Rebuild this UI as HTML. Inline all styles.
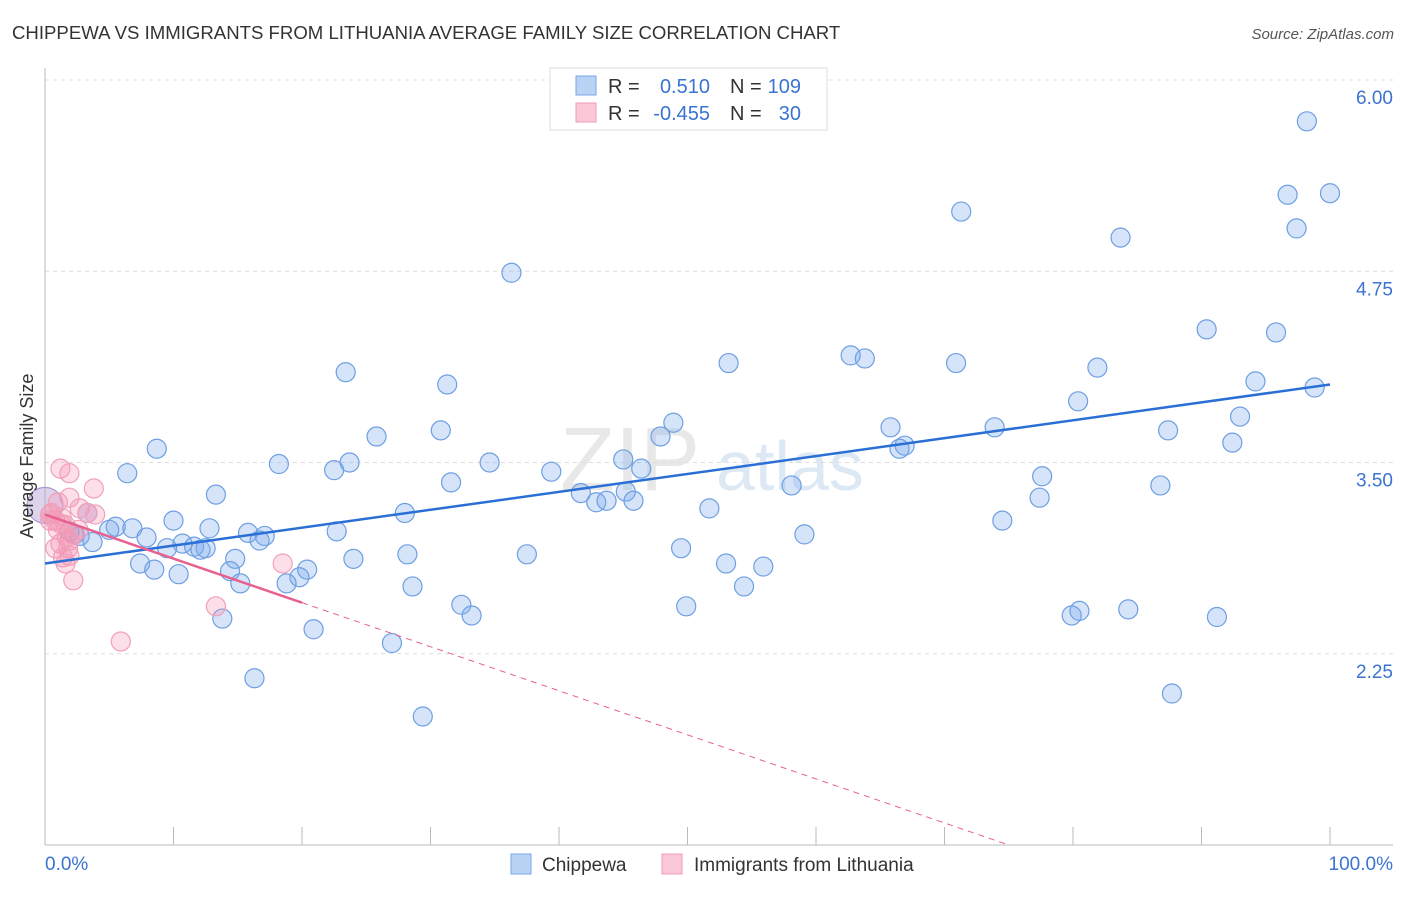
<!DOCTYPE html>
<html><head><meta charset="utf-8">
<style>
body{margin:0;background:#fff;font-family:"Liberation Sans",sans-serif;}
svg text{font-family:"Liberation Sans",sans-serif;}
</style></head>
<body>
<svg id="chart" width="1406" height="892" viewBox="0 0 1406 892" xmlns="http://www.w3.org/2000/svg">
<text x="12" y="39" font-size="18.6" fill="#333">CHIPPEWA VS IMMIGRANTS FROM LITHUANIA AVERAGE FAMILY SIZE CORRELATION CHART</text>
<text x="1394" y="39" font-size="15" fill="#555" font-style="italic" text-anchor="end">Source: ZipAtlas.com</text>
<text x="560" y="490" font-size="90" fill="#e8e8e8" font-family="Liberation Serif">ZIP</text>
<text x="716" y="490" font-size="70" fill="#dde8f5">atlas</text>
<g id="grid"></g>
<g id="axes"></g>
<g id="marks"></g>
<text transform="translate(33,456) rotate(-90)" font-size="18" fill="#333" text-anchor="middle">Average Family Size</text>
<g>
<rect x="550" y="68" width="277" height="62" fill="#fff" stroke="#ddd"/>
<rect x="576" y="76" width="20" height="19" fill="#b9d3f5" stroke="#7aa6e6"/>
<rect x="576" y="103" width="20" height="19" fill="#fbc8d8" stroke="#f09ab6"/>
<text x="608" y="93" font-size="20" fill="#333">R =</text>
<text x="710" y="93" font-size="20" fill="#3a74d0" text-anchor="end">0.510</text>
<text x="730" y="93" font-size="20" fill="#333">N =</text>
<text x="801" y="93" font-size="20" fill="#3a74d0" text-anchor="end">109</text>
<text x="608" y="120" font-size="20" fill="#333">R =</text>
<text x="710" y="120" font-size="20" fill="#3a74d0" text-anchor="end">-0.455</text>
<text x="730" y="120" font-size="20" fill="#333">N =</text>
<text x="801" y="120" font-size="20" fill="#3a74d0" text-anchor="end">30</text>
</g>
<g>
<rect x="511" y="854" width="20" height="20" fill="#b9d3f5" stroke="#7aa6e6"/>
<text x="542" y="871" font-size="19" fill="#333">Chippewa</text>
<rect x="662" y="854" width="20" height="20" fill="#fbc8d8" stroke="#f09ab6"/>
<text x="694" y="871" font-size="19" fill="#333">Immigrants from Lithuania</text>
</g>
</svg>
<script>
const yTicks=[6.00,4.75,3.50,2.25];
const yTickLabels=["6.00","4.75","3.50","2.25"];
const xTickLabels=["0.0%","100.0%"];
const blueX=[98.2,96.7,100,97.4,71.3,83.7,36.3,90.4,95.8,62.7,63.8,53.2,70.9,81.9,23.4,31.3,94.2,98.8,80.4,65.8,48.9,93.0,30.8,25.8,47.9,73.9,87.4,66.9,66.5,92.4,8.7,18.2,23.7,22.5,34.6,45.0,46.4,39.4,6.4,77.6,31.6,58.1,86.8,41.7,45.2,13.3,42.9,43.7,45.8,77.4,51.7,28.0,3.3,10.0,74.5,5.5,6.8,5.0,22.7,12.8,15.8,17.1,1.9,2.3,2.7,3.7,7.9,59.1,16.7,10.7,11.6,9.5,12.5,49.5,12.1,37.5,28.2,24.0,14.8,7.4,53.0,8.5,20.4,14.4,55.9,10.4,19.8,18.8,15.2,28.6,54.4,32.4,49.9,80.5,79.9,84.3,91.2,33.2,13.8,20.9,27.0,16.3,87.7,29.4,0];
const blueY=[5.73,5.25,5.26,5.03,5.14,4.97,4.74,4.37,4.35,4.20,4.18,4.15,4.15,4.12,4.09,4.01,4.03,3.99,3.90,3.73,3.76,3.80,3.71,3.67,3.67,3.73,3.71,3.61,3.59,3.63,3.59,3.49,3.50,3.45,3.50,3.52,3.46,3.44,3.43,3.41,3.37,3.35,3.35,3.30,3.31,3.29,3.24,3.25,3.25,3.27,3.20,3.17,3.17,3.12,3.12,3.08,3.07,3.06,3.05,3.07,3.04,3.02,3.05,3.03,3.02,2.98,3.01,3.03,2.99,2.97,2.95,2.94,2.94,2.94,2.93,2.90,2.90,2.87,2.87,2.84,2.84,2.80,2.80,2.79,2.82,2.77,2.75,2.71,2.71,2.69,2.69,2.57,2.56,2.53,2.50,2.54,2.49,2.50,2.48,2.41,2.32,2.09,1.99,1.84,3.22];
const pinkX=[1.2,1.9,3.8,1.9,2.7,1.0,3.3,0.4,0.8,1.2,1.6,0.4,2.2,1.9,1.2,0.8,1.8,1.9,1.4,1.6,2.2,18.5,13.3,5.9,3.9,1.0,2.6,1.7,0.5,1.3];
const pinkY=[3.46,3.43,3.33,3.27,3.20,3.24,3.17,3.16,3.12,3.10,3.09,3.12,3.03,2.99,2.97,2.94,2.94,2.89,2.88,2.84,2.73,2.84,2.56,2.33,3.16,3.06,3.06,3.01,3.17,3.14];
const blueFit=[2.84,4.01];
const pinkFit=[3.16,-0.0288];

const NS="http://www.w3.org/2000/svg";
const X0=45,X1=1330,Y0=845;
const xs=v=>X0+(X1-X0)*v/100;
const ys=v=>Y0-(v-1)*153;
function mk(tag,attrs,parent){const e=document.createElementNS(NS,tag);for(const k in attrs)e.setAttribute(k,attrs[k]);parent.appendChild(e);return e;}
const grid=document.getElementById('grid'),axes=document.getElementById('axes'),marks=document.getElementById('marks');
yTicks.forEach((t,i)=>{
 const l=mk('line',{x1:45,x2:1393,y1:ys(t),y2:ys(t),stroke:'#ddd','stroke-dasharray':'4,4'},grid);
 
 
 const tx=mk('text',{x:1393,y:ys(t)+24,'font-size':19,fill:'#3a74d0','text-anchor':'end'},axes);
 tx.textContent=yTickLabels[i];
 
 
});
const ya=mk('line',{x1:45,x2:45,y1:68,y2:845,stroke:'#bbb'},axes);


const xa=mk('line',{x1:45,x2:1393,y1:845,y2:845,stroke:'#bbb'},axes);


for(let i=0;i<=10;i++){
 const tk=mk('line',{x1:xs(i*10),x2:xs(i*10),y1:827,y2:845,stroke:'#bbb'},axes);
 
 
}
const xl0=mk('text',{x:45,y:870,'font-size':19,fill:'#3a74d0'},axes);xl0.textContent=xTickLabels[0];


const xl1=mk('text',{x:1393,y:870,'font-size':19,fill:'#3a74d0','text-anchor':'end'},axes);xl1.textContent=xTickLabels[1];



blueX.forEach((x,i)=>{
 const big=(i===blueX.length-1);
 const c=mk('circle',{cx:xs(x),cy:ys(blueY[i]),r:big?18:9.5,fill:big?'rgba(180,160,210,0.45)':'rgba(120,165,235,0.3)',stroke:big?'#a99ad8':'#6e9fe2','stroke-width':1.2},marks);
 
 
});
pinkX.forEach((x,i)=>{
 const c=mk('circle',{cx:xs(x),cy:ys(pinkY[i]),r:9.5,fill:'rgba(245,150,180,0.3)',stroke:'#f2a0ba','stroke-width':1.2},marks);
 
 
});
const bl=mk('line',{x1:xs(0),y1:ys(blueFit[0]),x2:xs(100),y2:ys(blueFit[1]),stroke:'#2a6fd6','stroke-width':2.5},marks);


const pEnd=(pinkFit[0]-1)/(-pinkFit[1]);
const pl=mk('line',{x1:xs(0),y1:ys(pinkFit[0]),x2:xs(20),y2:ys(pinkFit[0]+pinkFit[1]*20),stroke:'#e8608e','stroke-width':2.5},marks);


const pd=mk('line',{x1:xs(20),y1:ys(pinkFit[0]+pinkFit[1]*20),x2:xs(pEnd),y2:ys(1),stroke:'#e8608e','stroke-width':1,'stroke-dasharray':'6,5'},marks);


</script>
</body></html>
